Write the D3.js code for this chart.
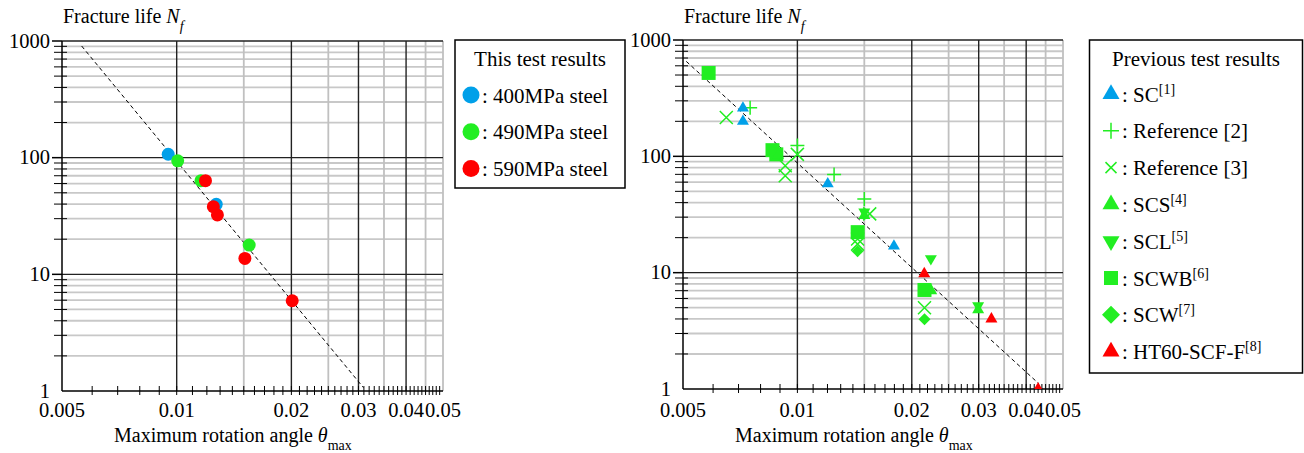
<!DOCTYPE html>
<html>
<head>
<meta charset="utf-8">
<title>Fracture life vs maximum rotation angle</title>
<style>
body { margin: 0; background: #fff; }
svg, svg text, svg tspan { font-family: "Liberation Serif", "Times New Roman", Tinos, "DejaVu Serif", serif; }
svg text { fill: #000; }
</style>
<script src="https://d3js.org/d3.v7.min.js"></script>
</head>
<body>
<svg id="chart" width="1304" height="453" font-family="Liberation Serif, serif"></svg>
<script>
// ---- data: [theta_max, Nf] ----
// this test results
var steel400 = [[0.0095, 107], [0.0127, 39.8]];
var steel490 = [[0.01006, 94], [0.01158, 63.5], [0.0155, 17.8]];
var steel590 = [[0.0119, 63.5], [0.01248, 38], [0.01279, 32.3], [0.0151, 13.7], [0.0201, 5.94]];
var fitLeft = [[0.00563, 906], [0.0309, 1.07]];

// previous test results
var prevSC = [[0.00719, 260], [0.00719, 200], [0.01202, 58], [0.01795, 16.9]];
var prevRef2 = [[0.00751, 262], [0.0100, 124], [0.01249, 69.7], [0.0150, 43]];
var prevRef3 = [[0.0065, 216], [0.00929, 83], [0.00929, 68], [0.0100, 104], [0.0155, 32], [0.0144, 19.5], [0.0144, 17.6], [0.0216, 5.0]];
var prevSCS = [[0.0089, 102], [0.0150, 31], [0.0225, 7.0], [0.0299, 4.8]];
var prevSCL = [[0.0150, 33.2], [0.02245, 13.2], [0.0299, 5.2]];
var prevSCWB = [[0.00584, 521], [0.0086, 113], [0.0088, 104], [0.01441, 22.3], [0.0216, 7.1]];
var prevSCW = [[0.0144, 15.3], [0.0216, 3.97]];
var prevHT60 = [[0.02157, 9.8], [0.0324, 4.0], [0.043, 1.0]];
var fitRight = [[0.0051, 655], [0.0432, 1.11]];

// axes
var xTickLabels = [0.005, 0.01, 0.02, 0.03, 0.04, 0.05];
var xMajorGrid = [0.01, 0.02, 0.03, 0.04];
var xMinorGrid = [0.015, 0.025, 0.035, 0.045, 0.05];
var yTickLabels = [1, 10, 100, 1000];

var blue = "#00a0e9", green = "#22ee22", red = "#ff0000";
var serif = "Liberation Serif, Times New Roman, serif";

var svg = d3.select("#chart");

function minorY() {
  var v = [];
  [1, 10, 100].forEach(function(d) {
    for (var k = 2; k <= 9; k++) v.push(d * k);
  });
  return v;
}
function minorX() {
  var v = [];
  for (var k = 6; k <= 49; k++) v.push(k / 1000);
  return v;
}

function marker(g, type, cx, cy, big, color) {
  var s;
  if (type == "circle") {
    g.append("circle").attr("cx", cx).attr("cy", cy)
      .attr("r", big ? 8.5 : 6.5).attr("fill", color);
  } else if (type == "up" || type == "down") {
    var w = big ? 17 : 12;
    g.append("path")
      .attr("d", d3.symbol(d3.symbolTriangle, Math.sqrt(3) / 4 * w * w)())
      .attr("transform", "translate(" + cx + "," + cy + ")" + (type == "down" ? " rotate(180)" : ""))
      .attr("fill", color);
  } else if (type == "square") {
    s = 14;
    g.append("rect").attr("x", cx - s / 2).attr("y", cy - s / 2)
      .attr("width", s).attr("height", s).attr("fill", color);
  } else if (type == "diamond") {
    s = big ? 9 : 6;
    g.append("path")
      .attr("d", "M" + cx + "," + (cy - s) + "L" + (cx + s) + "," + cy + "L" + cx + "," + (cy + s) + "L" + (cx - s) + "," + cy + "Z")
      .attr("fill", color);
  } else if (type == "plus") {
    s = big ? 8 : 7;
    g.append("path")
      .attr("d", "M" + (cx - s) + "," + cy + "H" + (cx + s) + "M" + cx + "," + (cy - s) + "V" + (cy + s))
      .attr("stroke", color).attr("stroke-width", 1.5).attr("fill", "none");
  } else if (type == "cross") {
    s = big ? 5.5 : 6.5;
    g.append("path")
      .attr("d", "M" + (cx - s) + "," + (cy - s) + "L" + (cx + s) + "," + (cy + s) + "M" + (cx + s) + "," + (cy - s) + "L" + (cx - s) + "," + (cy + s))
      .attr("stroke", color).attr("stroke-width", 1.5).attr("fill", "none");
  }
}

function drawPanel(id, x0, x1, y0, y1, fit, series) {
  var x = d3.scaleLog().domain([0.005, 0.05]).range([x0, x1]);
  var y = d3.scaleLog().domain([1, 1000]).range([y1, y0]);
  var g = svg.append("g");

  // grid
  g.selectAll(".hminor").data(minorY()).enter().append("line")
    .attr("x1", x0).attr("x2", x1)
    .attr("y1", function(d) { return y(d); }).attr("y2", function(d) { return y(d); })
    .attr("stroke", "#c8c8c8").attr("stroke-width", 1.8);
  g.selectAll(".vminor").data(xMinorGrid).enter().append("line")
    .attr("x1", function(d) { return x(d); }).attr("x2", function(d) { return x(d); })
    .attr("y1", y0).attr("y2", y1)
    .attr("stroke", "#c0c0c0").attr("stroke-width", 1.8);
  g.selectAll(".hmajor").data([10, 100, 1000]).enter().append("line")
    .attr("x1", x0).attr("x2", x1)
    .attr("y1", function(d) { return y(d); }).attr("y2", function(d) { return y(d); })
    .attr("stroke", "#222").attr("stroke-width", 1.4);
  g.selectAll(".vmajor").data(xMajorGrid).enter().append("line")
    .attr("x1", function(d) { return x(d); }).attr("x2", function(d) { return x(d); })
    .attr("y1", y0).attr("y2", y1)
    .attr("stroke", "#222").attr("stroke-width", 1.4);

  // axes lines and ticks
  g.append("line").attr("x1", x0).attr("x2", x0).attr("y1", y0).attr("y2", y1)
    .attr("stroke", "#000").attr("stroke-width", 1.5);
  g.append("line").attr("x1", x0).attr("x2", x1).attr("y1", y1).attr("y2", y1)
    .attr("stroke", "#000").attr("stroke-width", 1.5);
  g.selectAll(".ytick").data(minorY()).enter().append("line")
    .attr("x1", x0 - 8).attr("x2", x0 + 5)
    .attr("y1", function(d) { return y(d); }).attr("y2", function(d) { return y(d); })
    .attr("stroke", "#000").attr("stroke-width", 1);
  g.selectAll(".ytickM").data([10, 100, 1000]).enter().append("line")
    .attr("x1", x0 - 10).attr("x2", x0)
    .attr("y1", function(d) { return y(d); }).attr("y2", function(d) { return y(d); })
    .attr("stroke", "#000").attr("stroke-width", 1.5);
  g.selectAll(".xtick").data(minorX()).enter().append("line")
    .attr("x1", function(d) { return x(d); }).attr("x2", function(d) { return x(d); })
    .attr("y1", y1 - 5).attr("y2", y1 + 4)
    .attr("stroke", "#000").attr("stroke-width", 1);

  // tick labels
  g.selectAll(".ylab").data(yTickLabels).enter().append("text")
    .attr("font-family", serif)
    .attr("x", x0 - 12).attr("y", function(d) { return y(d) + 6.5; })
    .attr("text-anchor", "end").attr("font-size", 20.5)
    .text(function(d) { return d; });
  g.selectAll(".xlab").data(xTickLabels).enter().append("text")
    .attr("font-family", serif)
    .attr("x", function(d) { return x(d); }).attr("y", 417)
    .attr("text-anchor", "middle").attr("font-size", 20.5)
    .text(function(d) { return String(d); });

  // axis titles
  var t = g.append("text").attr("font-family", serif).attr("x", x0 + 1).attr("y", 23).attr("font-size", 20);
  t.append("tspan").text("Fracture life ");
  t.append("tspan").attr("font-style", "italic").text("N");
  t.append("tspan").attr("font-style", "italic").attr("font-size", 14).attr("dy", 8).text("f");
  var xl = g.append("text").attr("font-family", serif).attr("x", x0 + 52).attr("y", 442).attr("font-size", 20);
  xl.append("tspan").text("Maximum rotation angle ");
  xl.append("tspan").attr("font-style", "italic").text("\u03b8");
  xl.append("tspan").attr("font-size", 14).attr("dy", 8).text("max");

  // fit line
  g.append("line")
    .attr("x1", x(fit[0][0])).attr("y1", y(fit[0][1]))
    .attr("x2", x(fit[1][0])).attr("y2", y(fit[1][1]))
    .attr("stroke", "#000").attr("stroke-width", 1).attr("stroke-dasharray", "4,3");

  // marks
  svg.append("clipPath").attr("id", id).append("rect")
    .attr("x", x0).attr("y", y0 - 10).attr("width", x1 - x0 + 10).attr("height", y1 - y0 + 10);
  var m = g.append("g").attr("clip-path", "url(#" + id + ")");
  series.forEach(function(s) {
    s.data.forEach(function(d) {
      marker(m, s.type, x(d[0]), y(d[1]), false, s.color);
    });
  });
}

function drawLegend(bx, by, bw, bh, title, items, mx, tx, rowY, rowStep) {
  var g = svg.append("g");
  g.append("rect").attr("x", bx).attr("y", by).attr("width", bw).attr("height", bh)
    .attr("fill", "#fff").attr("stroke", "#000").attr("stroke-width", 1.5);
  g.append("text").attr("font-family", serif).attr("x", bx + bw / 2).attr("y", by + 26).attr("text-anchor", "middle")
    .attr("font-size", 21).text(title);
  items.forEach(function(it, i) {
    var cy = rowY + i * rowStep;
    marker(g, it.type, mx, cy, true, it.color);
    var t = g.append("text").attr("font-family", serif).attr("x", tx).attr("y", cy + 7.5).attr("font-size", 21);
    t.append("tspan").text(": " + it.label);
    if (it.sup) t.append("tspan").attr("font-size", 14).attr("dy", -8).text(it.sup);
  });
}

drawPanel("clipL", 62, 443, 41, 391, fitLeft, [
  { type: "circle", color: blue, data: steel400 },
  { type: "circle", color: green, data: steel490 },
  { type: "circle", color: red, data: steel590 }
]);

drawPanel("clipR", 683, 1063, 40, 389, fitRight, [
  { type: "square", color: green, data: prevSCWB },
  { type: "up", color: green, data: prevSCS },
  { type: "down", color: green, data: prevSCL },
  { type: "diamond", color: green, data: prevSCW },
  { type: "cross", color: green, data: prevRef3 },
  { type: "plus", color: green, data: prevRef2 },
  { type: "up", color: blue, data: prevSC },
  { type: "up", color: red, data: prevHT60 }
]);

drawLegend(455, 40, 170, 148, "This test results", [
  { type: "circle", color: blue, label: "400MPa steel" },
  { type: "circle", color: green, label: "490MPa steel" },
  { type: "circle", color: red, label: "590MPa steel" }
], 471, 482, 95, 36.7);

drawLegend(1089.5, 40, 213, 333, "Previous test results", [
  { type: "up", color: blue, label: "SC", sup: "[1]" },
  { type: "plus", color: green, label: "Reference [2]" },
  { type: "cross", color: green, label: "Reference [3]" },
  { type: "up", color: green, label: "SCS", sup: "[4]" },
  { type: "down", color: green, label: "SCL", sup: "[5]" },
  { type: "square", color: green, label: "SCWB", sup: "[6]" },
  { type: "diamond", color: green, label: "SCW", sup: "[7]" },
  { type: "up", color: red, label: "HT60-SCF-F", sup: "[8]" }
], 1111, 1122, 94, 36.8);
</script>
</body>
</html>
